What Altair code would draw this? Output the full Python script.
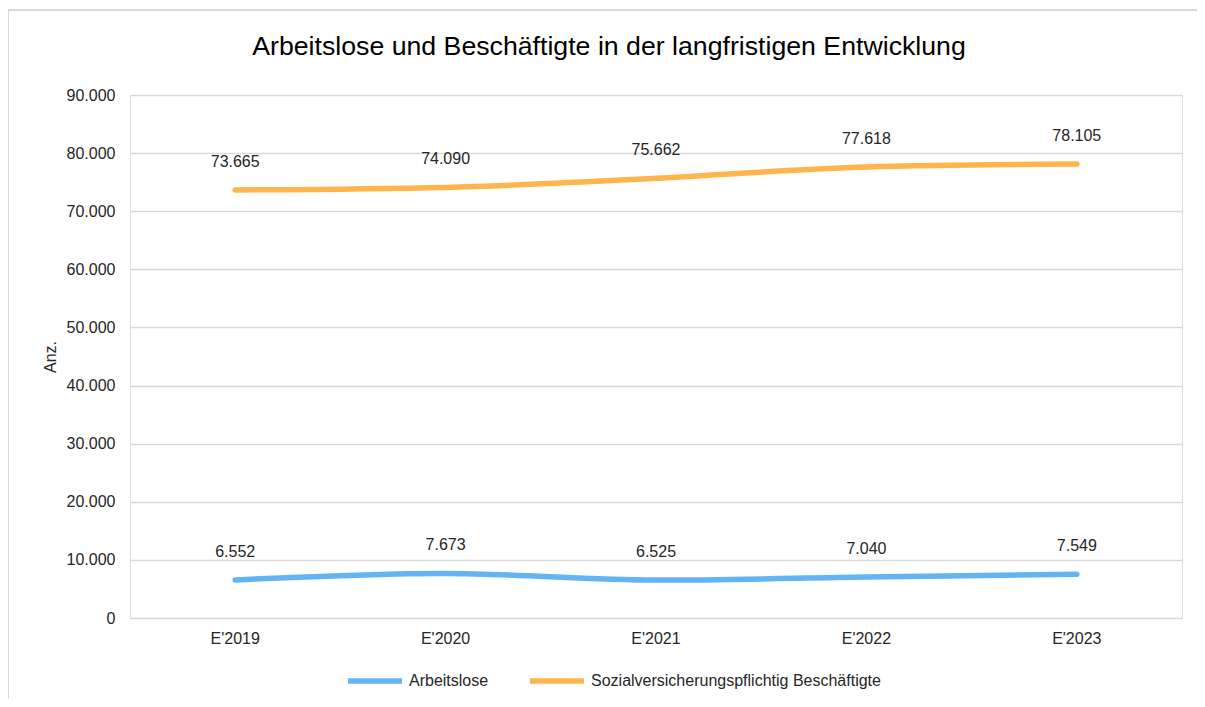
import altair as alt
import pandas as pd

years = ["E'2019", "E'2020", "E'2021", "E'2022", "E'2023"]
arbeitslose = [6552, 7673, 6525, 7040, 7549]
beschaeftigte = [73665, 74090, 75662, 77618, 78105]
series_names = ["Arbeitslose", "Sozialversicherungspflichtig Beschäftigte"]
series_colors = ["#63B4F4", "#FFB54D"]
y_ticks = [0, 10000, 20000, 30000, 40000, 50000, 60000, 70000, 80000, 90000]

rows = []
for i, y in enumerate(years):
    rows.append({"Jahr": y, "Reihe": series_names[0], "Wert": arbeitslose[i]})
    rows.append({"Jahr": y, "Reihe": series_names[1], "Wert": beschaeftigte[i]})
df = pd.DataFrame(rows)

W, H = 1052, 523
FONT = "Liberation Sans"
TXT = "#262626"

x_enc = alt.X("Jahr:N", sort=years, scale=alt.Scale(paddingInner=0, paddingOuter=0, type="band"),
              axis=alt.Axis(title=None, labelAngle=0, ticks=False, domain=False, grid=False,
                            labelPadding=12, labelFontSize=16, labelColor=TXT, labelFont=FONT))
y_enc = alt.Y("Wert:Q", scale=alt.Scale(domain=[0, 90000], nice=False),
              axis=alt.Axis(title="Anz.", values=y_ticks, ticks=False, domain=False,
                            gridColor="#D9D9D9", gridWidth=1.3,
                            labelExpr="replace(format(datum.value, ','), ',', '.')",
                            labelPadding=15, labelFontSize=16, labelColor=TXT, labelFont=FONT,
                            titleFontSize=16, titleFontWeight="normal", titleColor=TXT,
                            titleFont=FONT, titlePadding=8))

color_enc = alt.Color("Reihe:N", sort=series_names,
                      scale=alt.Scale(domain=series_names, range=series_colors),
                      legend=alt.Legend(title=None, orient="none", direction="horizontal",
                                        legendX=215, legendY=556,
                                        symbolType="stroke", symbolSize=2900,
                                        symbolStrokeWidth=5.5, labelFontSize=16,
                                        labelFont=FONT, labelColor=TXT, labelOffset=4,
                                        labelLimit=500, columnPadding=30))

lines = alt.Chart(df).mark_line(interpolate="monotone", strokeWidth=5.5, strokeCap="round").encode(
    x=x_enc, y=y_enc, color=color_enc)

labels = alt.Chart(df).transform_calculate(
    lab="replace(format(datum.Wert, ','), ',', '.')"
).mark_text(dy=-28, fontSize=16, font=FONT, color=TXT).encode(
    x=alt.X("Jahr:N", sort=years), y="Wert:Q", text="lab:N")

border = alt.Chart(pd.DataFrame({"a": [0]})).mark_rect(
    fill="transparent", stroke="#D9D9D9", strokeWidth=2, clip=False).encode(
    x=alt.value(-122), x2=alt.value(W + 100), y=alt.value(-85), y2=alt.value(H + 200))

chart = alt.layer(border, lines, labels).properties(
    width=W, height=H,
    title=alt.TitleParams("Arbeitslose und Beschäftigte in der langfristigen Entwicklung",
                          fontSize=26.7, font=FONT, fontWeight="normal", color="#000000",
                          anchor="middle", frame="group", dx=-47, offset=-52),
    padding={"left": 122, "top": 87, "right": 15, "bottom": 81},
    autosize=alt.AutoSizeParams(type="none"),
).configure_view(stroke=None).configure(background="white")

chart.save("out.html", embed_options={"renderer": "svg", "actions": False})
